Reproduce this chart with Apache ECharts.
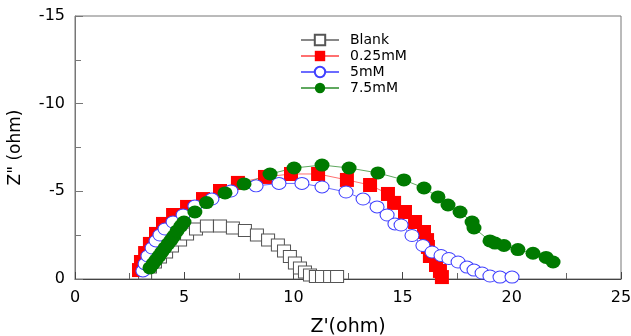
<!DOCTYPE html>
<html>
<head>
<meta charset="utf-8">
<script src="https://cdn.jsdelivr.net/npm/echarts@6/dist/echarts.min.js"></script>
<style>
  html, body { margin: 0; padding: 0; background: #fff; }
  #chart { width: 631px; height: 336px; }
</style>
</head>
<body>
<div id="chart"></div>
<script>
// Nyquist data: [Z', Z''] pairs
const blank = [
  [3.21, -0.34], [3.43, -0.68], [3.66, -0.97], [3.89, -1.25], [4.17, -1.54],
  [4.44, -1.88], [4.81, -2.22], [5.13, -2.57], [5.54, -2.85], [6.04, -3.02],
  [6.64, -3.02], [7.23, -2.91], [7.78, -2.77], [8.33, -2.51], [8.84, -2.22],
  [9.29, -1.94], [9.57, -1.60], [9.84, -1.28], [10.07, -0.91], [10.30, -0.63],
  [10.53, -0.40], [10.76, -0.23], [11.03, -0.14], [11.31, -0.14], [11.68, -0.14],
  [12.00, -0.14]
];
const mM025 = [
  [2.93, -0.51], [3.02, -0.97], [3.21, -1.48], [3.43, -2.00], [3.71, -2.57],
  [4.03, -3.14], [4.49, -3.65], [5.13, -4.11], [5.86, -4.56], [6.64, -5.02],
  [7.46, -5.48], [8.70, -5.82], [9.89, -5.99], [11.13, -5.99], [12.45, -5.65],
  [13.51, -5.36], [14.33, -4.85], [14.61, -4.34], [15.11, -3.82], [15.57, -3.25],
  [15.98, -2.68], [16.12, -2.22], [16.16, -1.83], [16.25, -1.31], [16.53, -0.80],
  [16.71, -0.46], [16.80, -0.11]
];
const mM5 = [
  [3.11, -0.46], [3.21, -0.86], [3.34, -1.31], [3.53, -1.77], [3.71, -2.17],
  [3.89, -2.51], [4.12, -2.85], [4.49, -3.25], [4.95, -3.65], [5.49, -4.16],
  [6.27, -4.56], [7.14, -5.02], [8.29, -5.31], [9.34, -5.45], [10.39, -5.45],
  [11.31, -5.25], [12.41, -4.96], [13.19, -4.56], [13.83, -4.11], [14.29, -3.65],
  [14.65, -3.14], [14.93, -3.08], [15.43, -2.48], [15.93, -1.91], [16.35, -1.54],
  [16.76, -1.34], [17.12, -1.17], [17.54, -0.97], [17.95, -0.68], [18.27, -0.51],
  [18.64, -0.34], [19.00, -0.17], [19.46, -0.11], [20.01, -0.11]
];
const mM75 = [
  [3.43, -0.63], [3.57, -0.86], [3.71, -1.08], [3.85, -1.31], [3.98, -1.54],
  [4.12, -1.77], [4.26, -2.00], [4.40, -2.22], [4.53, -2.45], [4.67, -2.74],
  [4.85, -3.02], [4.99, -3.25], [5.49, -3.82], [6.02, -4.36], [6.87, -4.91],
  [7.74, -5.42], [8.93, -5.99], [10.03, -6.33], [11.31, -6.50], [12.55, -6.33],
  [13.87, -6.05], [15.06, -5.65], [15.98, -5.19], [16.62, -4.68], [17.08, -4.22],
  [17.63, -3.82], [18.18, -3.25], [18.27, -2.91], [19.00, -2.17], [19.23, -2.05],
  [19.64, -1.91], [20.28, -1.68], [20.97, -1.47], [21.57, -1.23], [21.89, -0.97]
];
const seriesNames = ['Blank', '0.25mM', '5mM', '7.5mM'];

const chart = echarts.init(document.getElementById('chart'), null, { renderer: 'canvas' });
const font = 'DejaVu Sans, sans-serif';

const option = {
  animation: false,
  backgroundColor: '#fff',
  textStyle: { fontFamily: font },
  grid: {
    left: 75, right: 10, top: 16, bottom: 57,
    containLabel: false,
    outerBoundsMode: 'none',
    show: true, borderColor: '#777', borderWidth: 1, backgroundColor: 'transparent'
  },
  legend: {
    orient: 'vertical',
    left: 300,
    top: 33,
    padding: 0,
    itemWidth: 38,
    itemHeight: 13,
    itemGap: 2,
    data: seriesNames,
    textStyle: { fontFamily: font, fontSize: 14, color: '#000', padding: [0, 0, 0, 6] }
  },
  xAxis: {
    type: 'value',
    min: 0, max: 25, interval: 5,
    name: "Z'(ohm)",
    nameLocation: 'middle',
    nameGap: 39,
    nameTextStyle: { fontFamily: font, fontSize: 19, color: '#000' },
    axisLine: { show: true, lineStyle: { color: '#444', width: 1 } },
    axisTick: { show: true, inside: true, length: 7, lineStyle: { color: '#444' } },
    minorTick: { show: true, splitNumber: 2, length: 6, lineStyle: { color: '#666' } },
    axisLabel: { fontFamily: font, fontSize: 16, color: '#000', margin: 11 },
    splitLine: { show: false }
  },
  yAxis: {
    type: 'value',
    min: -15, max: 0, interval: 5,
    inverse: true,
    name: 'Z" (ohm)',
    nameLocation: 'middle',
    nameGap: 51,
    nameRotate: 90,
    nameTextStyle: { fontFamily: font, fontSize: 17, color: '#000' },
    axisLine: { show: true, lineStyle: { color: '#777', width: 1 } },
    axisTick: { show: true, inside: true, length: 8, lineStyle: { color: '#777' } },
    minorTick: { show: true, splitNumber: 2, length: 6, lineStyle: { color: '#777' } },
    axisLabel: { fontFamily: font, fontSize: 16, color: '#000', margin: 10 },
    splitLine: { show: false }
  },
  series: [
    {
      name: 'Blank', type: 'line', data: blank,
      symbol: 'rect', symbolSize: [13, 12], showAllSymbol: true,
      lineStyle: { color: '#888', width: 1 },
      itemStyle: { color: '#fff', borderColor: '#555', borderWidth: 1 }
    },
    {
      name: '0.25mM', type: 'line', data: mM025,
      symbol: 'rect', symbolSize: 14, showAllSymbol: true,
      lineStyle: { color: '#ff7070', width: 1 },
      itemStyle: { color: '#ff0000', borderWidth: 0 }
    },
    {
      name: '5mM', type: 'line', data: mM5,
      symbol: 'circle', symbolSize: [14, 12], showAllSymbol: true,
      lineStyle: { color: '#6b6bff', width: 1 },
      itemStyle: { color: '#fff', borderColor: '#4040ff', borderWidth: 1 }
    },
    {
      name: '7.5mM', type: 'line', data: mM75,
      symbol: 'circle', symbolSize: [15, 13], showAllSymbol: true,
      lineStyle: { color: '#5fa85f', width: 1 },
      itemStyle: { color: '#007a00', borderWidth: 0 }
    }
  ]
};

chart.setOption(option);
</script>
</body>
</html>
